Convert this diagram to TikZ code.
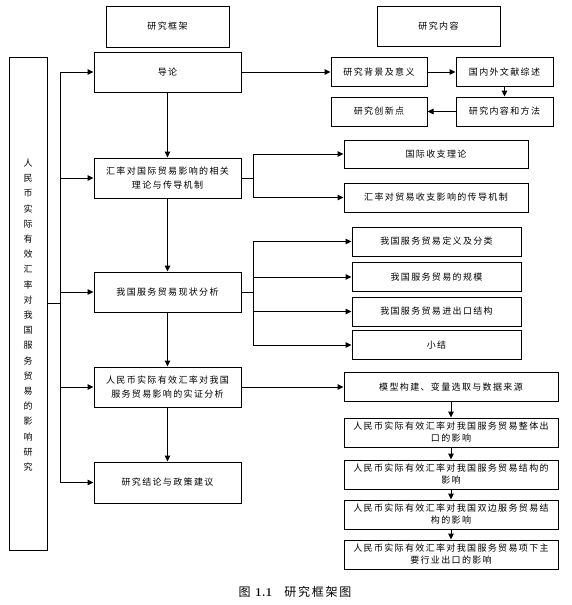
\documentclass[tikz,border=0pt]{standalone}
\usepackage{fontspec}
\newfontfamily\cjk[LetterSpace=15]{Noto Sans CJK SC}
\usetikzlibrary{arrows.meta}

\begin{document}
\begin{tikzpicture}[x=1pt,y=-1pt,
    box/.style={draw,line width=1pt,inner sep=1pt,align=center,
        font=\cjk\fontsize{9}{14}\selectfont},
    link/.style={line width=1pt},
    arr/.style={link,-{Triangle[length=6pt,width=5.5pt]}}]
\useasboundingbox (0,0) rectangle (572,605);

% Headers
\node[box,minimum width=123pt,minimum height=41pt] (frameHead) at (167.5,26.5) {研究框架};
\node[box,minimum width=123pt,minimum height=40pt] (contHead) at (438.5,26) {研究内容};

% Topic
\node[draw,line width=1pt,minimum width=38pt,minimum height=493pt] (topic) at (28,303.5) {};
\node[align=center,font=\cjk\fontsize{9}{15.2}\selectfont] (topicText) at (28,315)
    {人\\民\\币\\实\\际\\有\\效\\汇\\率\\对\\我\\国\\服\\务\\贸\\易\\的\\影\\响\\研\\究};

% Framework
\node[box,minimum width=147pt,minimum height=40pt] (intro) at (167.5,72) {导论};
\node[box,minimum width=147pt,minimum height=40pt] (theory) at (167.5,178) {汇率对国际贸易影响的相关\\理论与传导机制};
\node[box,minimum width=147pt,minimum height=40pt] (status) at (167.5,292) {我国服务贸易现状分析};
\node[box,minimum width=147pt,minimum height=40pt] (empirical) at (167.5,387) {人民币实际有效汇率对我国\\服务贸易影响的实证分析};
\node[box,minimum width=147pt,minimum height=41pt] (concl) at (167.5,482.5) {研究结论与政策建议};

% Contents of intro
\node[box,minimum width=96pt,minimum height=29pt] (bg) at (379,72) {研究背景及意义};
\node[box,minimum width=97pt,minimum height=29pt] (lit) at (504.5,72) {国内外文献综述};
\node[box,minimum width=97pt,minimum height=29pt] (method) at (504.5,111.5) {研究内容和方法};
\node[box,minimum width=96pt,minimum height=29pt] (innov) at (379,111.5) {研究创新点};

% Contents of theory
\node[box,minimum width=184pt,minimum height=28pt] (bop) at (436,154) {国际收支理论};
\node[box,minimum width=184pt,minimum height=29pt] (mech) at (436,197.5) {汇率对贸易收支影响的传导机制};

% Contents of status
\foreach \n/\y/\t in {s1/241.5/我国服务贸易定义及分类, s2/277/我国服务贸易的规模,
                      s3/311.5/我国服务贸易进出口结构, s4/345/小结} {
    \node[box,minimum width=169pt,minimum height=29pt] (\n) at (436.5,\y) {\t};
}

% Contents of empirical
\node[box,minimum width=214pt,minimum height=29pt] (model) at (451,387) {模型构建、变量选取与数据来源};
\foreach \n/\y/\t in {c1/432.5/{人民币实际有效汇率对我国服务贸易整体出\\口的影响},
                      c2/474.5/{人民币实际有效汇率对我国服务贸易结构的\\影响},
                      c3/514.5/{人民币实际有效汇率对我国双边服务贸易结\\构的影响},
                      c4/554.5/{人民币实际有效汇率对我国服务贸易项下主\\要行业出口的影响}} {
    \node[box,minimum width=214pt,minimum height=29pt,font=\cjk\fontsize{9}{12}\selectfont] (\n) at (451,\y) {\t};
}

% Bus
\coordinate (busTop) at (60,72);
\coordinate (busBot) at (60,482.5);
\draw[link] (busTop) -- (busBot);
\draw[link] (topic.east) -- (topic.east -| busTop);
\foreach \n in {intro,theory,status,empirical,concl} {
    \draw[arr] (\n.west -| busTop) -- (\n.west);
}

% Arrows
\draw[arr] (intro) -- (theory);
\draw[arr] (theory) -- (status);
\draw[arr] (status) -- (empirical);
\draw[arr] (empirical) -- (concl);

\draw[arr] (intro) -- (bg);
\draw[arr] (bg) -- (lit);
\draw[arr] (lit) -- (method);
\draw[arr] (method) -- (innov);

\coordinate (thBr) at (253,178);
\draw[link] (theory.east) -- (thBr);
\draw[link] (thBr |- bop.west) -- (thBr |- mech.west);
\draw[arr] (thBr |- bop.west) -- (bop.west);
\draw[arr] (thBr |- mech.west) -- (mech.west);

\coordinate (stBr) at (253,292);
\draw[link] (status.east) -- (stBr);
\draw[link] (stBr |- s1.west) -- (stBr |- s4.west);
\foreach \n in {s1,s2,s3,s4} {
    \draw[arr] (stBr |- \n.west) -- (\n.west);
}

\draw[arr] (empirical) -- (model);
\draw[arr] (model) -- (c1);
\draw[arr] (c1) -- (c2);
\draw[arr] (c2) -- (c3);
\draw[arr] (c3) -- (c4);

% Caption
\node[font=\cjk\fontsize{12}{14}\selectfont] (caption) at (295,592)
    {图 {\normalfont\bfseries 1.1}\quad 研究框架图};
\end{tikzpicture}
\end{document}
